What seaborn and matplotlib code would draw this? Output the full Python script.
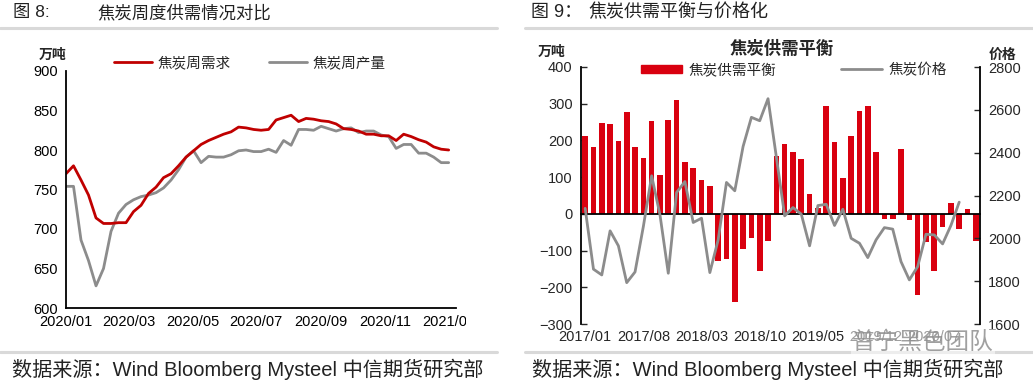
import numpy as np
import pandas as pd
import matplotlib
matplotlib.use("Agg")
import matplotlib.pyplot as plt
import seaborn as sns
from matplotlib.lines import Line2D
from matplotlib.patches import Patch
from matplotlib.transforms import Bbox

# ============================================================
# DATA - fig 8 : weekly coke demand / output (10k t)
# ============================================================
week_start = "2020-01-01"
week_end = "2021-01-01"
coke_demand = [770, 780, 762, 743, 714, 707, 707, 708, 708, 722, 730, 745, 753,
               765, 770, 780, 791, 799, 807, 812, 816, 820, 823, 829, 828, 826,
               825, 826, 838, 841, 844, 836, 840, 839, 837, 836, 833, 827, 826,
               824, 820, 820, 818, 818, 812, 820, 817, 813, 810, 804, 801, 800]
coke_output = [754, 754, 686, 660, 628, 650, 697, 720, 731, 737, 741, 743, 746,
               752, 762, 775, 791, 799, 784, 792, 791, 791, 794, 799, 800, 798,
               798, 801, 797, 812, 806, 826, 826, 825, 830, 827, 824, 827, 828,
               822, 824, 824, 819, 817, 802, 807, 807, 796, 796, 791, 784, 784]
fig8_ticks = ["2020-01-01", "2020-03-01", "2020-05-01", "2020-07-01",
              "2020-09-01", "2020-11-01", "2021-01-01"]
fig8_labels = ["2020/01", "2020/03", "2020/05", "2020/07", "2020/09", "2020/11", "2021/01"]

# ============================================================
# DATA - fig 9 : monthly balance (10k t) and coke price
# ============================================================
month_start = "2017-01"
balance = [213, 182, 247, 245, 198, 277, 182, 151, 252, 105, 255, 309,
           141, 124, 91, 76, -128, -122, -239, -95, -67, -156, -73, 158,
           190, 168, 150, 55, 15, 295, 195, 99, 213, 281, 295, 168,
           -14, -14, 176, -17, -221, -78, -156, -36, 30, -41, 13, -75]
price = [2140, 1856, 1829, 2035, 1965, 1793, 1843, 2055, 2292, 2110, 1837, 2214,
         2265, 2074, 2094, 1840, 1993, 2261, 2222, 2429, 2565, 2549, 2652, 2380,
         2105, 2144, 2113, 1965, 2153, 2159, 2060, 2136, 2000, 1977, 1910, 1993,
         2050, 2043, 1891, 1806, 1868, 2019, 2016, 1974, 2060, 2169, np.nan, np.nan]
fig9_every = 7

# ============================================================
# STYLE
# ============================================================
RED_LINE = "#c00000"
RED_BAR = "#d9000f"
GREY = "#8c8c8c"
SEP = "#d9d9d9"

sns.set_style("white")
plt.rcParams["font.family"] = ["Liberation Sans", "Noto Sans CJK SC"]
plt.rcParams["axes.unicode_minus"] = True

W, H = 1033, 383
fig = plt.figure(figsize=(W / 100, H / 100), dpi=100)


def px_axes(l, t, r, b):
    return fig.add_axes([l / W, 1 - b / H, (r - l) / W, (b - t) / H])


def fx(x):
    return x / W


def fy(y):
    return 1 - y / H


# ============================================================
# FIG 8
# ============================================================
dates = pd.date_range(week_start, week_end, periods=len(coke_demand))
df8 = pd.DataFrame({"date": dates, "demand": coke_demand, "output": coke_output})

ax1 = px_axes(66, 71, 456, 308)
sns.lineplot(data=df8, x="date", y="output", color=GREY, lw=2, ax=ax1)
sns.lineplot(data=df8, x="date", y="demand", color=RED_LINE, lw=2, ax=ax1)
ax1.set_xlim(pd.Timestamp("2020-01-01"), pd.Timestamp("2021-01-08"))
ax1.set_ylim(600, 900)
ax1.set_yticks(range(600, 901, 50))
ax1.set_xticks(pd.to_datetime(fig8_ticks))
ax1.set_xticklabels(fig8_labels)
ax1.set_xlabel("")
ax1.set_ylabel("")
for s in ["top", "right"]:
    ax1.spines[s].set_visible(False)
for s in ["left", "bottom"]:
    ax1.spines[s].set_color("black")
    ax1.spines[s].set_linewidth(1.3)
ax1.tick_params(direction="in", length=4, width=1, labelsize=10.5, colors="black")
ax1.tick_params(axis="y", pad=6)
ax1.tick_params(axis="x", pad=5)
last = ax1.get_xticklabels()[-1]
last.set_clip_box(Bbox.from_extents(0, 0, 466, H))
last.set_clip_on(True)

h8 = [Line2D([], [], color=RED_LINE, lw=2), Line2D([], [], color=GREY, lw=2)]
ax1.legend(h8, ["焦炭周需求", "焦炭周产量"], loc="center", ncol=2, frameon=False,
           bbox_to_anchor=(fx(250), fy(63)), bbox_transform=fig.transFigure,
           fontsize=10.5, handlelength=2.6, handletextpad=0.4, columnspacing=2.6)

fig.text(fx(53), fy(55), "万吨", fontsize=10, fontweight="bold", ha="center", va="center")

# ============================================================
# FIG 9
# ============================================================
months = pd.period_range(month_start, periods=len(balance), freq="M").strftime("%Y/%m")
df9 = pd.DataFrame({"month": months, "balance": balance, "price": price})

ax2 = px_axes(581, 67, 980, 324)
sns.barplot(data=df9, x="month", y="balance", color=RED_BAR, saturation=1,
            width=0.68, linewidth=0, ax=ax2)
ax2.set_xlim(-0.5, len(df9) - 0.5)
ax2.set_ylim(-300, 400)
ax2.set_yticks(range(-300, 401, 100))
ax2.set_xlabel("")
ax2.set_ylabel("")

ax3 = ax2.twinx()
sns.lineplot(x=np.arange(len(df9)), y=df9["price"], color=GREY, lw=2, ax=ax3)
ax3.set_ylim(1600, 2800)
ax3.set_yticks(range(1600, 2801, 200))
ax3.set_xlim(-0.5, len(df9) - 0.5)
ax3.set_ylabel("")

# zero line with tick marks at category boundaries, labels at the bottom
ax2.spines["bottom"].set_position(("data", 0))
ax2.spines["bottom"].set_color("black")
ax2.spines["bottom"].set_linewidth(1.3)
ax2.set_xticks(np.arange(fig9_every - 0.5, len(df9) - 1, fig9_every))
ax2.set_xticklabels([])
ax2.tick_params(axis="x", direction="in", length=3, width=1, colors="black")
sec = ax2.secondary_xaxis("bottom")
pos = np.arange(0, len(df9), fig9_every)
sec.set_xticks(pos)
sec.set_xticklabels([months[i] for i in pos])
sec.tick_params(length=0, labelsize=10.5, pad=4)
sec.spines["bottom"].set_visible(False)

for s in ["top", "right"]:
    ax2.spines[s].set_visible(False)
ax2.spines["left"].set_color("black")
ax2.spines["left"].set_linewidth(1.3)
for s in ["top", "left", "bottom"]:
    ax3.spines[s].set_visible(False)
ax3.spines["right"].set_color("black")
ax3.spines["right"].set_linewidth(1.3)
ax2.tick_params(axis="y", direction="in", length=4, width=1, labelsize=10.5, pad=6)
ax3.tick_params(axis="y", direction="in", length=4, width=1, labelsize=10.5, pad=6)

h9 = [Patch(color=RED_BAR), Line2D([], [], color=GREY, lw=2)]
ax3.legend(h9, ["焦炭供需平衡", "焦炭价格"], loc="center", ncol=2, frameon=False,
           bbox_to_anchor=(fx(794), fy(70)), bbox_transform=fig.transFigure,
           fontsize=10.5, handlelength=2.8, handleheight=0.5, handletextpad=0.4,
           columnspacing=4.5)

fig.text(fx(782), fy(48), "焦炭供需平衡", fontsize=12.5, fontweight="bold",
         ha="center", va="center")
fig.text(fx(552), fy(52), "万吨", fontsize=10, fontweight="bold", ha="center", va="center")
fig.text(fx(1003), fy(55), "价格", fontsize=10, fontweight="bold", ha="center", va="center")

# watermark (sits over the tick labels, as in the source)
fig.text(fx(852), fy(342), "普宁黑色团队", fontsize=17, color="#8f8f8f", alpha=0.85,
         ha="left", va="center",
         bbox=dict(facecolor="white", edgecolor="none", alpha=0.55, pad=1))

# ============================================================
# HEADERS / SOURCES
# ============================================================
fig.text(fx(13), fy(13), "图 8:", fontsize=12.5, ha="left", va="center", color="#222222")
fig.text(fx(97), fy(13), "焦炭周度供需情况对比", fontsize=12.5, ha="left", va="center",
         color="#222222")
fig.text(fx(531), fy(13), "图 9：", fontsize=13, ha="left", va="center", color="#222222")
fig.text(fx(588), fy(13), "焦炭供需平衡与价格化", fontsize=13, ha="left",
         va="center", color="#222222")
for x0, x1 in [(0, 497), (525, 1033)]:
    fig.add_artist(Line2D([fx(x0), fx(x1)], [fy(28), fy(28)], color=SEP, lw=2.2))
    fig.add_artist(Line2D([fx(x0), fx(x1)], [fy(352), fy(352)], color=SEP, lw=2.2))
src = "数据来源：Wind Bloomberg Mysteel 中信期货研究部"
fig.text(fx(12), fy(369), src, fontsize=14.5, ha="left", va="center", color="#222222")
fig.text(fx(532), fy(369), src, fontsize=14.5, ha="left", va="center", color="#222222")

fig.savefig("out.png", dpi=100)
plt.close(fig)
